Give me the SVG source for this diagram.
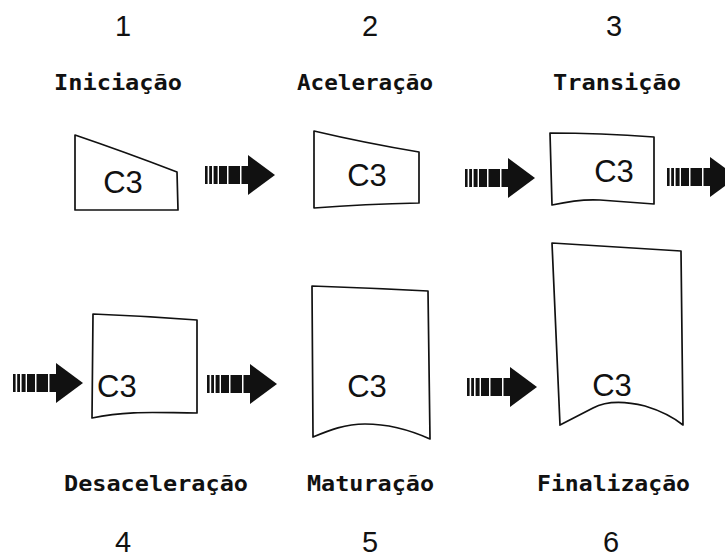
<svg xmlns="http://www.w3.org/2000/svg" width="725" height="559" viewBox="0 0 725 559">
<style>
.shape{fill:#fff;stroke:#111;stroke-width:1.7;stroke-linejoin:round}
.c3{font-family:"Liberation Sans",Arial,sans-serif;font-size:31px;fill:#111}
.num{font-family:"Liberation Sans",Arial,sans-serif;font-size:29px;fill:#111;text-anchor:middle}
.lbl{font-family:"DejaVu Sans Mono","Liberation Mono",monospace;font-weight:bold;font-size:21px;fill:#111}
</style>
<defs>
<g id="arrow">
<rect x="0" y="-9" width="2.6" height="18" fill="#111"/>
<rect x="4.2" y="-9" width="2.8" height="18" fill="#111"/>
<rect x="8.6" y="-9" width="4" height="18" fill="#111"/>
<rect x="14" y="-9" width="8" height="18" fill="#111"/>
<rect x="23.5" y="-9" width="11.5" height="18" fill="#111"/>
<rect x="36.5" y="-9" width="8" height="18" fill="#111"/>
<polygon points="43,-20 70,0 43,20" fill="#111"/>
</g>
</defs>
<g id="numbers">
<text class="num" x="123" y="36">1</text>
<text class="num" x="370" y="36">2</text>
<text class="num" x="614" y="36">3</text>
<text class="num" x="123" y="552">4</text>
<text class="num" x="370" y="552">5</text>
<text class="num" x="611" y="552">6</text>
</g>
<g id="labels">
<text class="lbl" x="54" y="90" textLength="128" lengthAdjust="spacingAndGlyphs">Iniciação</text>
<text class="lbl" x="297" y="90" textLength="136" lengthAdjust="spacingAndGlyphs">Aceleração</text>
<text class="lbl" x="553" y="90" textLength="128" lengthAdjust="spacingAndGlyphs">Transição</text>
<text class="lbl" x="64" y="491" textLength="184" lengthAdjust="spacingAndGlyphs">Desaceleração</text>
<text class="lbl" x="307" y="491" textLength="127" lengthAdjust="spacingAndGlyphs">Maturação</text>
<text class="lbl" x="537" y="491" textLength="153" lengthAdjust="spacingAndGlyphs">Finalização</text>
</g>
<g id="node1">
<path class="shape" d="M75,135 Q125,152 177,172 L178,210 L75,210 Z"/>
<text class="c3" x="123" y="193" text-anchor="middle">C3</text>
</g>
<g id="node2">
<path class="shape" d="M314,131 Q365,143 419,152 L419,203 Q365,204 314,208 Z"/>
<text class="c3" x="367" y="186" text-anchor="middle">C3</text>
</g>
<g id="node3">
<path class="shape" d="M550,133 Q600,133 654,137 L654,204 L600,200 C585,199 570,201 552,205 Z"/>
<text class="c3" x="614" y="182" text-anchor="middle">C3</text>
</g>
<g id="node4">
<path class="shape" d="M93,314 Q145,316 197,320 L197,413 C160,413 130,410 92,418 Z"/>
<text class="c3" x="97" y="397">C3</text>
</g>
<g id="node5">
<path class="shape" d="M312,286 Q370,288 428,291 L430,439 C410,430 390,424 365,424 C345,424 330,430 313,437 Z"/>
<text class="c3" x="367" y="397" text-anchor="middle">C3</text>
</g>
<g id="node6">
<path class="shape" d="M552,243 L681,251 L683,425 Q668,413 645,406 Q612,398 593,408 L560,425 Z"/>
<text class="c3" x="612" y="396" text-anchor="middle">C3</text>
</g>
<g id="connectors">
<use href="#arrow" transform="translate(205,175)"/>
<use href="#arrow" transform="translate(465,178)"/>
<use href="#arrow" transform="translate(667,177)"/>
<use href="#arrow" transform="translate(13,383)"/>
<use href="#arrow" transform="translate(207,384)"/>
<use href="#arrow" transform="translate(467,387)"/>
</g>
</svg>
